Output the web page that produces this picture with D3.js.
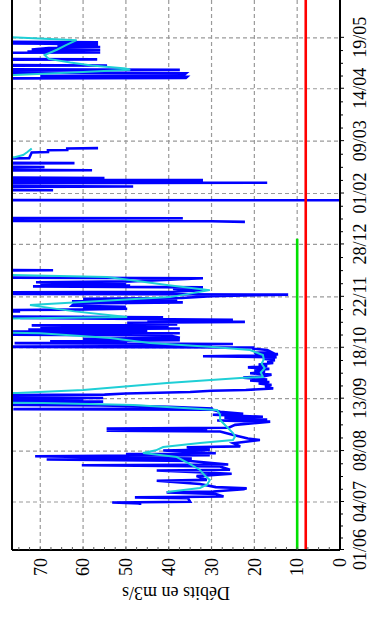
<!DOCTYPE html>
<html>
<head>
<meta charset="utf-8">
<script src="https://cdn.jsdelivr.net/npm/d3@7"></script>
<style>
  html, body { margin: 0; padding: 0; background: #fff; }
  svg { display: block; }
  text { font-family: "Times New Roman", "Liberation Serif", serif; fill: #000; }
</style>
</head>
<body>
<script>
// Débits d'une année hydrologique, du 1er juin 2010 au printemps 2011.
// Les instants sont comptés en jours depuis le 01/06/2010.
const startDate = Date.UTC(2010, 5, 1);
const endDate = Date.UTC(2011, 5, 25);

const dateTicks = ["2010-06-01", "2010-07-04", "2010-08-08", "2010-09-13", "2010-10-18",
  "2010-11-22", "2010-12-28", "2011-02-01", "2011-03-09", "2011-04-14", "2011-05-19"];
const flowTicks = [0, 10, 20, 30, 40, 50, 60, 70];
const flowMax = 76.6;

// Débits instantanés (m3/s) ; null = lacune
const observed = [
  [30.9,46.7],[32.0,46.7],[32.6,53.2],[33.2,35],[35.6,35.5],[36.2,47.9],[36.8,27.2],[38.5,29],
  [39.6,40.5],[40.2,29.6],[41.8,22.5],[42.4,21.8],[43.2,29],[45.4,32.7],[47.6,42.8],[48.2,31.1],
  [50.8,33.5],[52.4,25.3],[54.6,42.8],[55.2,25.7],[57.4,28],[58.2,60.3],[58.8,26.1],[61.2,35],
  [62.2,68.5],[62.8,34.6],[64.4,71.2],[65.2,30.4],[66.0,50],[66.5,29],[68.4,41.3],[69.0,30.4],
  [70.6,35.8],[71.2,23.3],[73.4,24.9],[75.6,18.7],[76.6,21.5],[79.0,24.9],[81.4,28],[82.0,54.5],
  [82.6,31],[83.4,54.5],[84.0,26],[86.0,24.5],[88.2,16.3],
  [89.0,28.7],[89.6,17],[91.0,27],[91.6,18],[93.0,29.7],[93.6,22.6],[95.0,28],[96.4,29.7],
  [96.8,76.3],[97.3,29.7],[98.5,40],[99.4,56],[99.8,95],[101.5,95],[102.0,55.3],[102.6,95],
  [103.3,60],[103.8,95],[104.5,55.3],[105.0,95],[106.2,95],[106.8,55],[107.6,50],[108.6,35],
  [109.4,30],[110.0,22],[111.0,15.6],
  [112.5,17.5],[113.5,16],[114.5,19],[115.5,16.5],[116.5,21],[117.2,17],[118.5,22.6],[119.2,18],
  [120.5,16],[121.5,21],[122.3,17.5],[123.5,20],[124.5,16.5],[125.5,21.5],[126.5,17],[127.5,19],
  [128.5,15.6],[129.5,17],[130.5,15.2],[131.5,18],[132.5,14.8],[133.2,32],[133.8,15.5],[134.6,14.5],
  [135.5,20],[136.0,16],[137.5,17],[138.4,20.3],[139.2,20.3],[139.6,95],[140.2,30],[141.0,44],[141.6,25],
  [142.2,76],[142.8,49.7],[143.5,67.7],[144.2,37.4],[145.2,60],[145.8,37.4],[147.5,40],[148.2,95],
  [149.0,37.4],[149.8,95],[150.6,45],[151.5,72.8],[152.2,37.4],[153.0,70],[153.6,40],[154.4,72],
  [155.0,38],[156.2,49.7],[156.8,22.2],[157.6,45],[158.2,25],[159.4,74.7],[160.0,41.3],[160.6,95],
  [163.5,95],[164.0,74.7],[164.5,95],[165.2,62.6],[165.8,49.7],[166.6,60],[167.2,50],[167.8,62.6],
  [169.5,62],[170.2,36.7],[171.0,62.6],[171.8,38],[172.6,60],[173.2,37],[174.5,30],[175.5,12.1],
  [176.2,95],[176.8,95],[177.5,39],[178.5,32],[179.5,39],[180.5,32],[181.2,71.7],[181.8,49],
  [182.5,70],[183.2,50],[184.0,71],[184.6,49],[186.8,32],[187.4,95],[191.8,95],[192.3,67],[192.7,95],
  [193,null],
  [225.5,22.2],[225.9,30],[226.2,95],[227.6,95],[228.0,36.7],[228.3,95],
  [229,null],
  [240.4,0],[240.5,95],
  [241,null],
  [247.2,67],[247.6,95],[249.3,95],[249.8,48.3],[250.3,95],[251.9,95],[252.4,17],[252.8,95],
  [253.8,95],[254.2,32],[254.6,95],[255.3,95],[255.7,55],[256.1,95],[260.6,95],[261.0,57.9],
  [261.5,95],[262.8,95],[263.2,69],[263.6,95],[265.5,95],[265.9,62],[266.4,95],[269.0,95],
  [269.2,72.6],[273.2,72.0],[273.5,68.2],[274.7,68.2],[274.9,63.7],[276.0,63.7],[276.2,56.5],
  [277,null],
  [324.0,95],[324.4,36],[325.2,35.7],[325.8,70],[326.4,36.5],[327.6,36],[328.2,95],[329.6,95],
  [330.0,37.4],[330.6,95],[332.6,95],[333.0,54.4],[333.5,95],[336.8,95],[337.2,56.7],[337.6,95],
  [341.5,95],[342.0,56],[342.6,73],[343.4,56],[344.0,72],[345.0,68],[345.6,56],[346.4,66],
  [347.2,56.5],[348.0,68],[348.6,95],[349.0,56.5],[349.4,95]
];

// Débits moyens lissés (m3/s) ; null = lacune
const smoothed = [
  [39.9,40.4],[42.6,32.7],[45.0,31],[48.1,30.4],[51.0,31.5],[55.0,32.7],[59.0,35],[63.9,38.1],
  [66.6,46],[68.5,43],[70.8,41.3],[73.5,32.7],[75.6,25],[78.0,24.5],[80.4,25],[84.5,26.4],
  [89.3,28],[93.0,28],[96.2,28.7],[99.6,48.3],[101.0,69.3],[102.0,95],[106.8,95],[107.9,75.4],
  [109.9,60],[114.7,40.4],[118.2,23.3],[118.9,18],[122.0,18.5],[125.0,17.6],[128.0,18.3],
  [131.0,17.8],[134.0,18],[137.4,21],[139.5,29.7],[142.2,44.4],[145.7,53.7],[149.0,70],
  [150.5,95],[158.5,95],[160.1,49.7],[164.0,62],[168.3,72.4],[173.8,39.7],[178.6,30.4],
  [182.0,40],[185.5,49],[187.6,54.4],[189.0,77],[189.5,95],
  [190,null],
  [269.5,95],[270.0,76],[271.5,74],[273.5,73],[276.0,72],
  [277,null],
  [325.6,95],[326.4,76],[328.5,60],[330.0,49],[331.0,50],[333.0,58],[335.0,63],[337.5,68],
  [340.2,69],[344.0,66],[347.0,64],[350.4,61.5],[352.5,77],[353.0,95]
];

// Seuils de référence : [date, débit]
const redLevel = [["2010-06-01", 8], ["2011-06-25", 8]];
const greenLevel = [["2010-06-01", 10], ["2011-01-01", 10]];

const W = 372, H = 617;           // page
const plot = { left: 67, right: 633, top: 12, bottom: 340 };

const svg = d3.select("body").append("svg").attr("width", W).attr("height", H);
// the chart is laid out landscape, then turned a quarter turn
const g = svg.append("g").attr("transform", `translate(0,${H}) rotate(-90)`);

const dayMs = 86400000;
const toDate = d => new Date(startDate + d * dayMs);
const parse = s => new Date(s + "T00:00:00Z");

const x = d3.scaleUtc().domain([new Date(startDate), new Date(endDate)]).range([plot.left, plot.right]);
const y = d3.scaleLinear().domain([0, flowMax]).range([plot.bottom, plot.top]);

g.append("clipPath").attr("id", "plotClip")
  .append("rect").attr("x", plot.left).attr("y", plot.top)
  .attr("width", plot.right - plot.left).attr("height", plot.bottom - plot.top);

// grid
const gridStyle = sel => sel.attr("stroke", "#9a9a9a").attr("stroke-width", 1.2).attr("stroke-dasharray", "4,3");
g.append("g").selectAll("line").data(flowTicks.filter(v => v > 0)).join("line")
  .attr("x1", plot.left).attr("x2", plot.right)
  .attr("y1", d => y(d)).attr("y2", d => y(d)).call(gridStyle);
g.append("g").selectAll("line").data(dateTicks.slice(1).map(parse)).join("line")
  .attr("x1", d => x(d)).attr("x2", d => x(d))
  .attr("y1", plot.top).attr("y2", plot.bottom).call(gridStyle);

const series = g.append("g").attr("clip-path", "url(#plotClip)");
const flowLine = d3.line().defined(d => d[1] !== null)
  .x(d => x(toDate(d[0]))).y(d => y(d[1]));

series.append("path").datum(observed)
  .attr("fill", "none").attr("stroke", "#0000ff").attr("stroke-width", 2.6)
  .attr("stroke-linejoin", "miter").attr("d", flowLine);
series.append("path").datum(smoothed)
  .attr("fill", "none").attr("stroke", "#1fcfd6").attr("stroke-width", 2)
  .attr("d", flowLine);

const levelLine = d3.line().x(d => x(parse(d[0]))).y(d => y(d[1]));
series.append("path").datum(greenLevel)
  .attr("fill", "none").attr("stroke", "#00e000").attr("stroke-width", 2.6).attr("d", levelLine);
series.append("path").datum(redLevel)
  .attr("fill", "none").attr("stroke", "#ff0000").attr("stroke-width", 2.6).attr("d", levelLine);

// axes
const frame = g.append("g").attr("stroke", "#000").attr("stroke-width", 2).attr("fill", "none");
frame.append("line").attr("x1", plot.left).attr("x2", plot.right).attr("y1", plot.bottom).attr("y2", plot.bottom);
frame.append("line").attr("x1", plot.left).attr("x2", plot.right).attr("y1", plot.top).attr("y2", plot.top);
frame.append("line").attr("x1", plot.left).attr("x2", plot.left).attr("y1", plot.top).attr("y2", plot.bottom);

const serif = '"Times New Roman","Liberation Serif",serif';
const xAxis = d3.axisBottom(x).tickValues(dateTicks.map(parse))
  .tickFormat(d3.utcFormat("%d/%m")).tickSize(4).tickPadding(9);
const xg = g.append("g").attr("transform", `translate(0,${plot.bottom})`).call(xAxis);
xg.select(".domain").remove();
xg.selectAll("text").attr("font-size", 18).style("font-family", serif);

// minor date ticks
const minor = [];
const tickD = dateTicks.map(parse);
for (let i = 0; i < tickD.length - 1; i++) {
  for (let k = 1; k < 4; k++) minor.push(new Date(+tickD[i] + (tickD[i + 1] - tickD[i]) * k / 4));
}
g.append("g").selectAll("line").data(minor).join("line")
  .attr("x1", d => x(d)).attr("x2", d => x(d))
  .attr("y1", plot.bottom).attr("y2", plot.bottom + 3).attr("stroke", "#000");

const yAxis = d3.axisLeft(y).tickValues(flowTicks).tickFormat(d3.format("d")).tickSize(0).tickPadding(8);
const yg = g.append("g").attr("transform", `translate(${plot.left},0)`).call(yAxis);
yg.select(".domain").remove();
yg.selectAll("text").attr("font-size", 18).style("font-family", serif);

// minor flow ticks (inside)
g.append("g").selectAll("line").data(d3.range(2.5, flowMax, 2.5)).join("line")
  .attr("x1", plot.left).attr("x2", plot.left + 3)
  .attr("y1", d => y(d)).attr("y2", d => y(d)).attr("stroke", "#555");

g.append("text")
  .attr("transform", `translate(30,${(plot.top + plot.bottom) / 2}) rotate(-90)`)
  .attr("text-anchor", "middle").attr("font-size", 18).style("font-family", serif)
  .text("Débits en m3/s");
</script>
</body>
</html>
